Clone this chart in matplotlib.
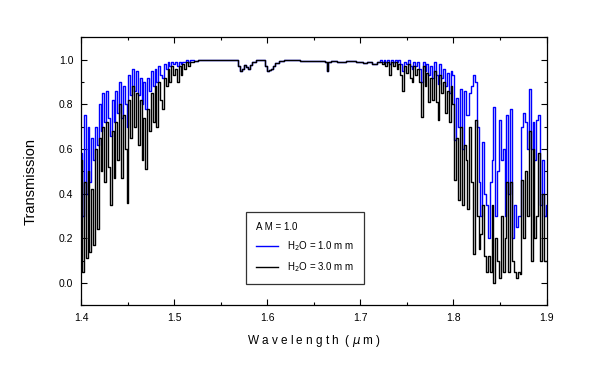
import matplotlib
matplotlib.use("Agg")
import matplotlib.pyplot as plt
from matplotlib.ticker import MultipleLocator
from matplotlib.lines import Line2D

plt.rcParams["font.family"] = ["Liberation Sans", "DejaVu Sans"]

# 1.400 - 1.520 um, 0.002 um sampling
wl_short = [1.400, 1.402, 1.404, 1.406, 1.408, 1.410, 1.412, 1.414, 1.416, 1.418,
            1.420, 1.422, 1.424, 1.426, 1.428, 1.430, 1.432, 1.434, 1.436, 1.438,
            1.440, 1.442, 1.444, 1.446, 1.448, 1.450, 1.452, 1.454, 1.456, 1.458,
            1.460, 1.462, 1.464, 1.466, 1.468, 1.470, 1.472, 1.474, 1.476, 1.478,
            1.480, 1.482, 1.484, 1.486, 1.488, 1.490, 1.492, 1.494, 1.496, 1.498,
            1.500, 1.502, 1.504, 1.506, 1.508, 1.510, 1.512, 1.514, 1.516, 1.518,
            1.520]
h2o_1mm_short = [0.58, 0.30, 0.75, 0.40, 0.70, 0.45, 0.65, 0.55, 0.70, 0.62,
                 0.80, 0.68, 0.85, 0.72, 0.86, 0.74, 0.66, 0.82, 0.72, 0.86,
                 0.76, 0.90, 0.74, 0.88, 0.80, 0.70, 0.93, 0.84, 0.96, 0.86,
                 0.95, 0.84, 0.92, 0.80, 0.90, 0.78, 0.92, 0.86, 0.95, 0.88,
                 0.96, 0.90, 0.97, 0.93, 0.92, 0.98, 0.96, 0.99, 0.97, 0.99,
                 0.98, 0.99, 0.97, 0.99, 0.98, 0.99, 0.99, 1.00, 0.99, 1.00,
                 1.00]
h2o_3mm_short = [0.55, 0.05, 0.45, 0.11, 0.50, 0.14, 0.42, 0.17, 0.60, 0.24,
                 0.65, 0.50, 0.70, 0.45, 0.72, 0.52, 0.35, 0.68, 0.47, 0.72,
                 0.55, 0.80, 0.47, 0.75, 0.60, 0.36, 0.82, 0.65, 0.88, 0.70,
                 0.85, 0.62, 0.82, 0.55, 0.74, 0.51, 0.78, 0.68, 0.85, 0.72,
                 0.88, 0.70, 0.90, 0.82, 0.78, 0.92, 0.88, 0.96, 0.90, 0.97,
                 0.93, 0.96, 0.90, 0.97, 0.93, 0.98, 0.96, 0.99, 0.97, 0.99,
                 0.99]

# window region, mostly CO2 bands (same for both water columns)
wl_mid = [1.522, 1.530, 1.540, 1.550, 1.560, 1.568, 1.570, 1.572, 1.574, 1.576,
          1.578, 1.580, 1.582, 1.585, 1.590, 1.597, 1.599, 1.601, 1.603, 1.605,
          1.607, 1.610, 1.615, 1.620, 1.630, 1.640, 1.650, 1.660, 1.664, 1.665,
          1.666, 1.670, 1.680, 1.690, 1.700, 1.705, 1.710, 1.715, 1.720]
t_mid = [0.995, 0.997, 1.000, 1.000, 1.000, 1.000, 0.970, 0.950, 0.960, 0.975,
         0.965, 0.960, 0.975, 0.990, 1.000, 1.000, 0.970, 0.950, 0.955, 0.960,
         0.970, 0.985, 0.995, 1.000, 0.998, 0.995, 0.993, 0.995, 0.990, 0.950,
         0.990, 0.995, 0.990, 0.995, 0.990, 0.985, 0.990, 0.980, 0.990]

# 1.722 - 1.900 um, 0.002 um sampling
wl_long = [1.722, 1.724, 1.726, 1.728, 1.730, 1.732, 1.734, 1.736, 1.738, 1.740,
           1.742, 1.744, 1.746, 1.748, 1.750, 1.752, 1.754, 1.756, 1.758, 1.760,
           1.762, 1.764, 1.766, 1.768, 1.770, 1.772, 1.774, 1.776, 1.778, 1.780,
           1.782, 1.784, 1.786, 1.788, 1.790, 1.792, 1.794, 1.796, 1.798, 1.800,
           1.802, 1.804, 1.806, 1.808, 1.810, 1.812, 1.814, 1.816, 1.818, 1.820,
           1.822, 1.824, 1.826, 1.828, 1.830, 1.832, 1.834, 1.836, 1.838, 1.840,
           1.842, 1.844, 1.846, 1.848, 1.850, 1.852, 1.854, 1.856, 1.858, 1.860,
           1.862, 1.864, 1.866, 1.868, 1.870, 1.872, 1.874, 1.876, 1.878, 1.880,
           1.882, 1.884, 1.886, 1.888, 1.890, 1.892, 1.894, 1.896, 1.898, 1.900]
h2o_1mm_long = [1.00, 0.99, 1.00, 0.99, 1.00, 0.98, 1.00, 0.99, 1.00, 0.99,
                1.00, 0.98, 0.95, 0.99, 0.98, 1.00, 0.97, 0.96, 0.99, 0.97,
                0.99, 0.96, 0.90, 0.99, 0.95, 0.98, 0.93, 0.97, 0.92, 0.99,
                0.93, 0.89, 0.98, 0.92, 0.96, 0.88, 0.94, 0.85, 0.95, 0.93,
                0.64, 0.83, 0.70, 0.87, 0.60, 0.86, 0.75, 0.75, 0.85, 0.88,
                0.93, 0.90, 0.70, 0.45, 0.30, 0.63, 0.40, 0.35, 0.20, 0.45,
                0.55, 0.79, 0.30, 0.50, 0.73, 0.55, 0.60, 0.30, 0.75, 0.40,
                0.78, 0.20, 0.35, 0.25, 0.30, 0.30, 0.70, 0.76, 0.72, 0.60,
                0.87, 0.60, 0.72, 0.55, 0.73, 0.75, 0.35, 0.55, 0.30, 0.35]
h2o_3mm_long = [0.99, 0.98, 0.99, 0.97, 0.99, 0.93, 0.99, 0.97, 0.99, 0.96,
                0.98, 0.93, 0.86, 0.97, 0.94, 0.98, 0.92, 0.90, 0.97, 0.93,
                0.96, 0.90, 0.745, 0.97, 0.88, 0.94, 0.81, 0.92, 0.82, 0.95,
                0.81, 0.73, 0.93, 0.85, 0.90, 0.76, 0.86, 0.72, 0.88, 0.80,
                0.46, 0.65, 0.37, 0.70, 0.35, 0.62, 0.55, 0.33, 0.70, 0.45,
                0.13, 0.73, 0.30, 0.15, 0.22, 0.35, 0.12, 0.05, 0.12, 0.05,
                0.35, 0.00, 0.20, 0.10, 0.02, 0.30, 0.05, 0.20, 0.45, 0.05,
                0.45, 0.10, 0.05, 0.02, 0.05, 0.04, 0.46, 0.20, 0.50, 0.30,
                0.68, 0.10, 0.60, 0.20, 0.30, 0.58, 0.10, 0.40, 0.10, 0.10]

wl = wl_short + wl_mid + wl_long
t_1mm = h2o_1mm_short + t_mid + h2o_1mm_long
t_3mm = h2o_3mm_short + t_mid + h2o_3mm_long

fig = plt.figure(figsize=(5.9, 3.81), dpi=100)
ax = fig.add_axes([0.1373, 0.1987, 0.789, 0.7033])

ax.plot(wl, t_1mm, color="#0000ff", lw=1.0, drawstyle="steps-mid")
ax.plot(wl, t_3mm, color="black", lw=1.0, drawstyle="steps-mid")

ax.set_xlim(1.4, 1.9)
ax.set_ylim(-0.1, 1.1)
ax.xaxis.set_major_locator(MultipleLocator(0.1))
ax.xaxis.set_minor_locator(MultipleLocator(0.05))
ax.yaxis.set_major_locator(MultipleLocator(0.2))
ax.yaxis.set_minor_locator(MultipleLocator(0.1))
ax.xaxis.set_major_formatter(plt.FormatStrFormatter("%.1f"))
ax.yaxis.set_major_formatter(plt.FormatStrFormatter("%.1f"))
ax.tick_params(which="both", direction="in", top=True, right=True,
               labelsize=7.5, width=0.8, pad=5.5)
ax.tick_params(which="major", length=4.5)
ax.tick_params(which="minor", length=2.5)
for s in ax.spines.values():
    s.set_linewidth(0.9)

ax.set_xlabel("W a v e l e n g t h  ( $\\mu$ m )", fontsize=8.5)
ax.set_ylabel("Transmission", fontsize=10.5)
ax.xaxis.set_label_coords(0.5, -0.103)
ax.yaxis.set_label_coords(-0.0924, 0.462)

handles = [Line2D([], [], color="#0000ff", lw=1),
           Line2D([], [], color="black", lw=1)]
labels = ["H$_2$O = 1.0 m m", "H$_2$O = 3.0 m m"]
leg = ax.legend(handles, labels, title="A M = 1.0", loc="lower left",
                bbox_to_anchor=(0.3545, 0.0795), borderaxespad=0,
                fontsize=7, title_fontsize=7,
                frameon=True, fancybox=False, edgecolor="black",
                handlelength=2.3, handletextpad=0.9, borderpad=1.0,
                labelspacing=0.75, alignment="left")
leg.get_frame().set_linewidth(0.9)

fig.savefig("out.png", dpi=100)
